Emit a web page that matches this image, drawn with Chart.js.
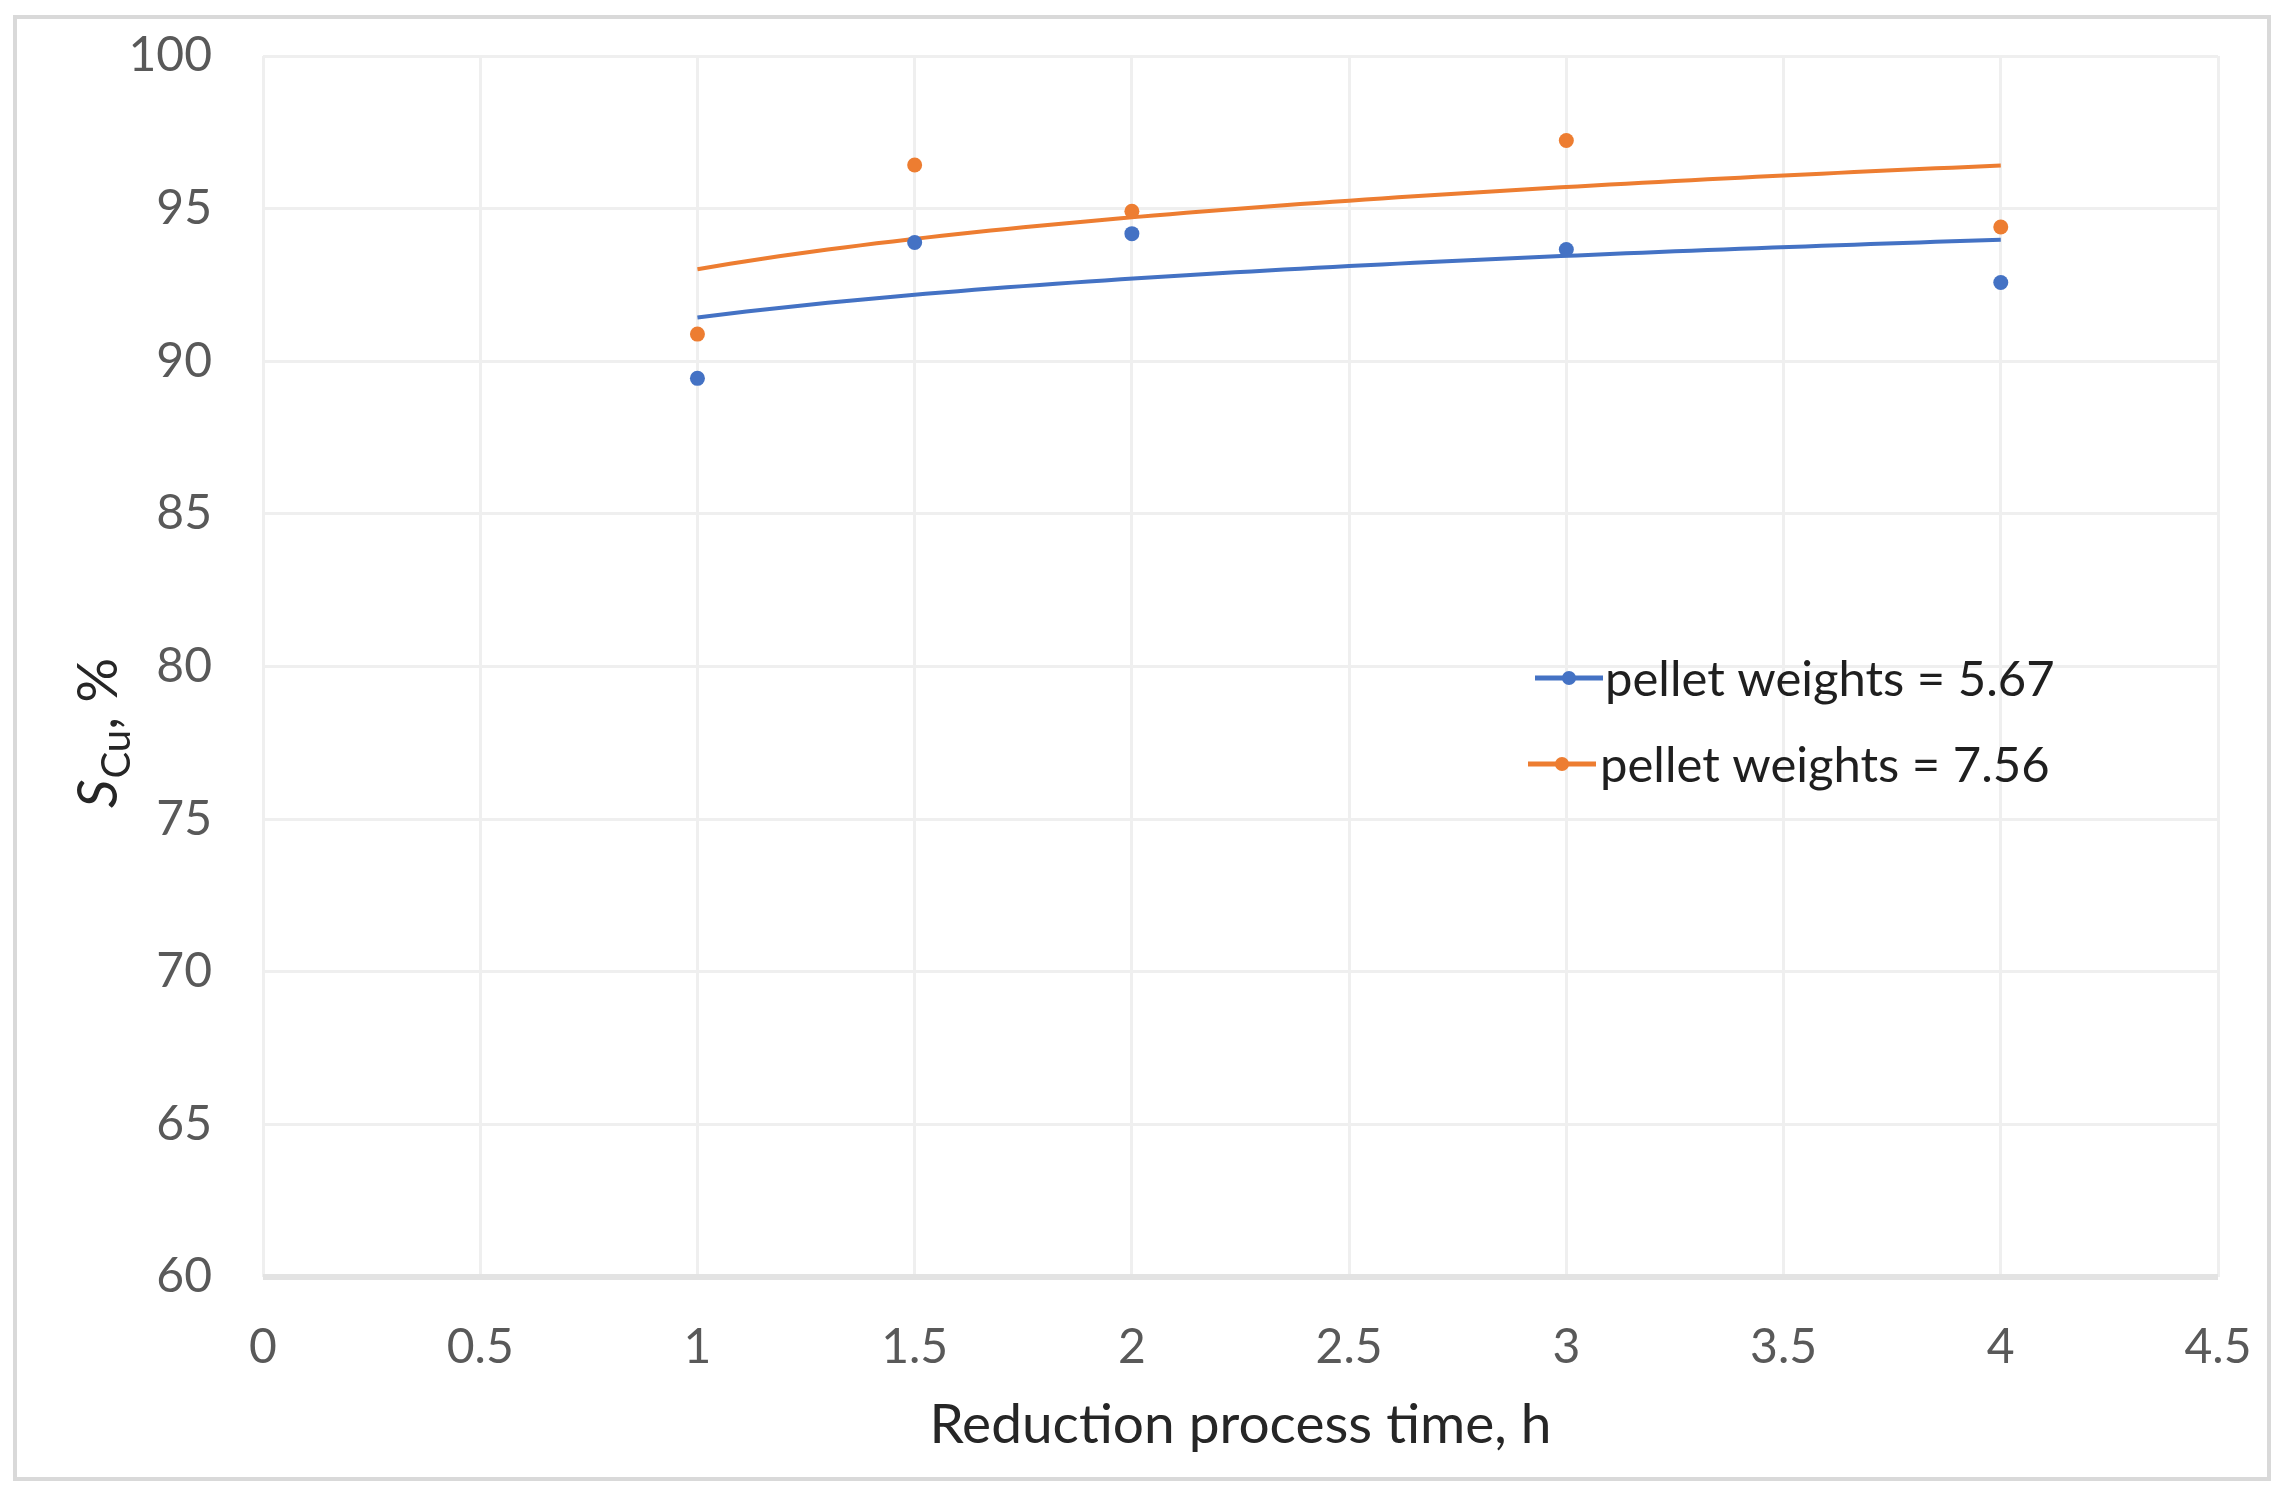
<!DOCTYPE html>
<html><head><meta charset="utf-8">
<script src="https://cdn.jsdelivr.net/npm/chart.js@4.4.0/dist/chart.umd.min.js"></script>
<style>html,body{margin:0;padding:0;background:#fff}canvas{display:block}</style>
</head><body>
<canvas id="c" width="2292" height="1507" style="width:2292px;height:1507px"></canvas>
<script>
// ---- data ----
const seriesLabels = ['pellet weights = 5.67', 'pellet weights = 7.56'];
const timeH = [1, 1.5, 2, 3, 4];
const scuW567 = [89.44, 93.89, 94.18, 93.66, 92.58];
const scuW756 = [90.89, 96.43, 94.91, 97.23, 94.40];
const xTickValues = [0, 0.5, 1, 1.5, 2, 2.5, 3, 3.5, 4, 4.5];
const xTickLabels = ['0', '0.5', '1', '1.5', '2', '2.5', '3', '3.5', '4', '4.5'];
const yTickValues = [60, 65, 70, 75, 80, 85, 90, 95, 100];
const yTickLabels = ['60', '65', '70', '75', '80', '85', '90', '95', '100'];
const xTitle = 'Reduction process time, h';
const colors = ['#4472C4', '#ED7D31'];

// logarithmic trendline (least squares y = a + b ln x), as in the source spreadsheet
function logTrend(xs, ys) {
  const n = xs.length;
  const lx = xs.map(Math.log);
  const mx = lx.reduce((s, v) => s + v, 0) / n;
  const my = ys.reduce((s, v) => s + v, 0) / n;
  let sxy = 0, sxx = 0;
  for (let i = 0; i < n; i++) { sxy += (lx[i] - mx) * (ys[i] - my); sxx += (lx[i] - mx) ** 2; }
  const b = sxy / sxx, a = my - b * mx;
  const pts = [];
  const x0 = xs[0], x1 = xs[n - 1], steps = 80;
  for (let k = 0; k <= steps; k++) { const x = x0 + (x1 - x0) * k / steps; pts.push({x, y: a + b * Math.log(x)}); }
  return pts;
}
const toPts = ys => timeH.map((x, i) => ({x, y: ys[i]}));

const FONT = 'Lato, "Open Sans", sans-serif';

const framePlugin = {
  id: 'frame',
  beforeDraw(chart) {
    const c = chart.ctx;
    c.save(); c.fillStyle = '#fff'; c.fillRect(0, 0, chart.width, chart.height); c.restore();
  },
  afterDraw(chart) {
    const c = chart.ctx;
    c.save();
    c.strokeStyle = '#d9d9d9'; c.lineWidth = 4;
    c.strokeRect(15, 17, 2254, 1462);
    // x title
    c.fillStyle = '#262626';
    c.font = '55px ' + FONT;
    c.textAlign = 'center'; c.textBaseline = 'alphabetic';
    const ca = chart.chartArea;
    c.fillText(xTitle, (ca.left + ca.right) / 2, 1443);
    // y title S_Cu, %
    c.translate(117, 808); c.rotate(-Math.PI / 2);
    c.textAlign = 'left';
    c.font = 'italic 56px ' + FONT;
    c.fillText('S', 0, 0);
    let w = c.measureText('S').width + 1;
    c.font = '40px ' + FONT;
    c.fillText('Cu', w, 13);
    w += c.measureText('Cu').width;
    c.font = '56px ' + FONT;
    c.fillText(', %', w, 0);
    c.restore();
    // legend
    c.save();
    const rows = [{y: 678, x0: 1535, x1: 1603, tx: 1605}, {y: 764, x0: 1528, x1: 1596, tx: 1600}];
    rows.forEach((r, i) => {
      c.strokeStyle = colors[i]; c.lineWidth = 5;
      c.beginPath(); c.moveTo(r.x0, r.y); c.lineTo(r.x1, r.y); c.stroke();
      c.fillStyle = colors[i];
      c.beginPath(); c.arc((r.x0 + r.x1) / 2, r.y, 7, 0, Math.PI * 2); c.fill();
      c.fillStyle = '#1f1f1f';
      c.font = '49px ' + FONT;
      c.textAlign = 'left'; c.textBaseline = 'middle';
      c.fillText(seriesLabels[i], r.tx, r.y + 2);
    });
    c.restore();
  }
};

new Chart(document.getElementById('c'), {
  type: 'scatter',
  data: {
    datasets: [
      {label: seriesLabels[0], data: toPts(scuW567), backgroundColor: colors[0], borderColor: colors[0], pointRadius: 7.5, pointBorderWidth: 0, order: 0},
      {label: seriesLabels[1], data: toPts(scuW756), backgroundColor: colors[1], borderColor: colors[1], pointRadius: 7.5, pointBorderWidth: 0, order: 0},
      {label: 'trend1', type: 'line', data: logTrend(timeH, scuW567), borderColor: colors[0], borderWidth: 4, pointRadius: 0, tension: 0, fill: false, order: 1},
      {label: 'trend2', type: 'line', data: logTrend(timeH, scuW756), borderColor: colors[1], borderWidth: 4, pointRadius: 0, tension: 0, fill: false, order: 1}
    ]
  },
  options: {
    responsive: false, animation: false, devicePixelRatio: 1,
    layout: {padding: {left: 0, top: 56, right: 74, bottom: 0}},
    plugins: {legend: {display: false}, tooltip: {enabled: false}},
    scales: {
      x: {
        type: 'linear', min: 0, max: 4.5,
        afterBuildTicks: s => { s.ticks = xTickValues.map(v => ({value: v})); },
        afterFit: s => { s.height = 230; },
        ticks: {callback: (v, i) => xTickLabels[i], color: '#595959', font: {family: FONT, size: 48}, padding: 6, maxRotation: 0, autoSkip: false},
        grid: {color: '#efefef', lineWidth: 3, drawTicks: true, tickLength: 36, tickColor: 'rgba(0,0,0,0)'},
        border: {display: false}
      },
      y: {
        type: 'linear', min: 60, max: 100,
        afterBuildTicks: s => { s.ticks = yTickValues.map(v => ({value: v})); },
        afterFit: s => { s.width = 263; },
        ticks: {callback: (v, i) => yTickLabels[i], color: '#595959', font: {family: FONT, size: 48}, padding: 6, autoSkip: false},
        grid: {color: c => c.tick && c.tick.value === 60 ? '#e3e3e3' : '#efefef', lineWidth: c => c.tick && c.tick.value === 60 ? 6 : 3, drawTicks: true, tickLength: 45, tickColor: 'rgba(0,0,0,0)'},
        border: {display: false}
      }
    }
  },
  plugins: [framePlugin]
});
</script>
</body></html>
